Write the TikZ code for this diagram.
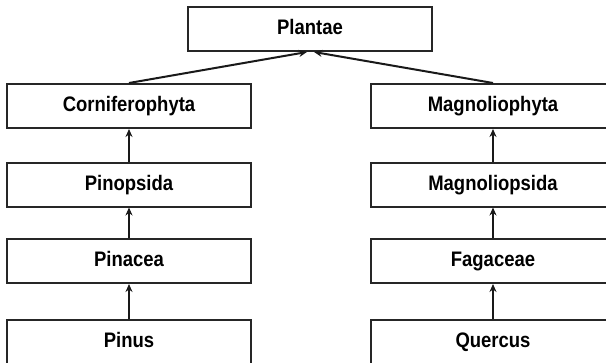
\documentclass[tikz,border=0pt]{standalone}
\usepackage{fontspec}
\setmainfont{Liberation Sans}[FakeStretch=0.88]
\usetikzlibrary{arrows.meta}

\tikzset{
	taxon/.style={draw=black!85, line width=2pt, minimum width=244pt, minimum height=44pt,
		inner sep=0pt, text height=15pt, text depth=4pt,
		font=\bfseries\fontsize{21}{21}\selectfont},
	up/.style={-{Stealth[length=8pt,width=7pt]}, line width=2pt, black!90},
}

\begin{document}
\begin{tikzpicture}[x=1pt, y=-1pt]
	% frame: 606 x 362, right column and bottom row run off the edge
	\useasboundingbox (0,0) rectangle (606,362);
	\clip (0,0) rectangle (606,362);

	% kingdom
	\node[taxon] (plantae) at (310,29) {Plantae};

	% conifer branch
	\node[taxon] (cornifero) at (129,106) {Corniferophyta};
	\node[taxon] (pinopsida) at (129,184.5) {Pinopsida};
	\node[taxon] (pinacea) at (129,261) {Pinacea};
	\node[taxon] (pinus) at (129,342) {Pinus};

	% flowering branch
	\node[taxon] (magnolio) at (493,106) {Magnoliophyta};
	\node[taxon] (magnoliop) at (493,184.5) {Magnoliopsida};
	\node[taxon] (fagaceae) at (493,261) {Fagaceae};
	\node[taxon] (quercus) at (493,342) {Quercus};

	% links
	\draw[up] (cornifero.north) -- ([xshift=-3pt]plantae.south);
	\draw[up] (magnolio.north) -- ([xshift=4pt]plantae.south);
	\draw[up] (pinopsida) -- (cornifero);
	\draw[up] (pinacea) -- (pinopsida);
	\draw[up] (pinus) -- (pinacea);
	\draw[up] (magnoliop) -- (magnolio);
	\draw[up] (fagaceae) -- (magnoliop);
	\draw[up] (quercus) -- (fagaceae);
\end{tikzpicture}
\end{document}
